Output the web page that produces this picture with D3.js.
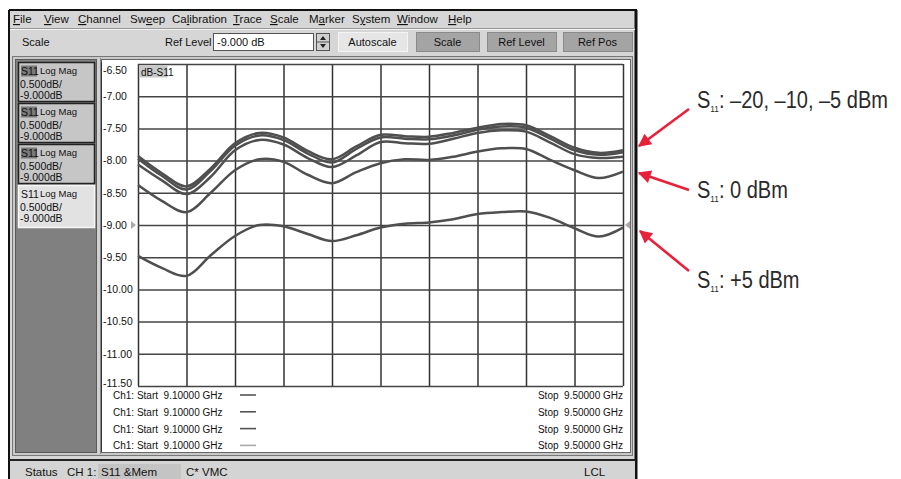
<!DOCTYPE html>
<html><head><meta charset="utf-8">
<script src="https://cdn.jsdelivr.net/npm/d3@7"></script>
<style>
body{margin:0;background:#fff}
svg{display:block}
text{font-family:"Liberation Sans",Arial,sans-serif}
</style>
</head><body>
<svg id="c" width="901" height="479"></svg>
<script>
// ---------- data ----------
const freqs   = [9.10,9.12,9.14,9.16,9.18,9.20,9.22,9.24,9.26,9.28,9.30,9.32,9.34,9.36,9.38,9.40,9.42,9.44,9.46,9.48,9.50];
const s11m20  = [-7.93,-8.20,-8.40,-8.12,-7.73,-7.57,-7.64,-7.85,-7.98,-7.78,-7.60,-7.62,-7.63,-7.57,-7.49,-7.43,-7.45,-7.62,-7.80,-7.88,-7.84];
const s11m10  = [-7.97,-8.24,-8.45,-8.16,-7.77,-7.61,-7.68,-7.89,-8.03,-7.82,-7.64,-7.66,-7.67,-7.61,-7.52,-7.47,-7.49,-7.66,-7.84,-7.91,-7.87];
const s11m5   = [-8.06,-8.31,-8.52,-8.25,-7.84,-7.68,-7.75,-7.96,-8.10,-7.92,-7.71,-7.73,-7.74,-7.66,-7.57,-7.53,-7.55,-7.72,-7.90,-7.96,-7.94];
const s11p0   = [-8.38,-8.63,-8.80,-8.50,-8.15,-7.98,-8.02,-8.22,-8.35,-8.18,-8.04,-7.98,-7.99,-7.94,-7.86,-7.81,-7.82,-7.99,-8.15,-8.27,-8.17];
const s11p5   = [-9.48,-9.67,-9.79,-9.47,-9.17,-9.00,-9.02,-9.14,-9.25,-9.16,-9.04,-8.98,-8.96,-8.91,-8.83,-8.80,-8.79,-8.89,-9.05,-9.18,-9.04];
const yTicks  = [-6.5,-7,-7.5,-8,-8.5,-9,-9.5,-10,-10.5,-11,-11.5];
const xTicks  = [9.10,9.14,9.18,9.22,9.26,9.30,9.34,9.38,9.42,9.46,9.50];
const menuItems = ["File","View","Channel","Sweep","Calibration","Trace","Scale","Marker","System","Window","Help"];
const menuMnemonic = [0,0,0,2,2,0,0,1,1,0,0];
const buttons = ["Autoscale","Scale","Ref Level","Ref Pos"];
const channelLines = ["0.500dB/","-9.000dB"];
const legendStart = "Ch1: Start  9.10000 GHz";
const legendStop  = "Stop  9.50000 GHz";
const annotations = [": \u201320, \u201310, \u20135 dBm", ": 0 dBm", ": +5 dBm"];

// ---------- drawing ----------
const svg = d3.select("#c");
const W = 901, H = 479;
svg.append("rect").attr("width",W).attr("height",H).attr("fill","#fff");

const g = svg.append("g");
g.append("rect").attr("x",9).attr("y",10).attr("width",627).attr("height",469).attr("fill","#d6d6d6");
g.append("line").attr("x1",9).attr("x2",9).attr("y1",10).attr("y2",479).attr("stroke","#111").attr("stroke-width",2);
g.append("line").attr("x1",636).attr("x2",636).attr("y1",10).attr("y2",479).attr("stroke","#111").attr("stroke-width",3);
g.append("line").attr("x1",9).attr("x2",637).attr("y1",10).attr("y2",10).attr("stroke","#111").attr("stroke-width",2);

// menu bar
const menuX = [13,44,78,130,172,233,270,309,352,397,448];
menuItems.forEach((m,i)=>{
  const t = g.append("text").attr("x",menuX[i]).attr("y",23).attr("font-size",11.5).attr("fill","#111");
  const k = menuMnemonic[i];
  if(k>0) t.append("tspan").text(m.slice(0,k));
  t.append("tspan").attr("text-decoration","underline").text(m[k]);
  t.append("tspan").text(m.slice(k+1));
});
g.append("line").attr("x1",10).attr("x2",635).attr("y1",28.5).attr("y2",28.5).attr("stroke","#9a9a9a");
g.append("line").attr("x1",10).attr("x2",635).attr("y1",29.5).attr("y2",29.5).attr("stroke","#f2f2f2");

// toolbar
g.append("text").attr("x",22).attr("y",46).attr("font-size",11).attr("fill","#111").text("Scale");
g.append("text").attr("x",165).attr("y",46).attr("font-size",11).attr("fill","#111").text("Ref Level");
g.append("rect").attr("x",213.5).attr("y",33.5).attr("width",100).attr("height",17).attr("fill","#fff").attr("stroke","#555");
g.append("text").attr("x",217).attr("y",46).attr("font-size",11).attr("fill","#111").text("-9.000 dB");
g.append("rect").attr("x",316.5).attr("y",33.5).attr("width",13).attr("height",17).attr("fill","#d0d0d0").attr("stroke","#555");
g.append("line").attr("x1",317).attr("x2",329).attr("y1",42).attr("y2",42).attr("stroke","#555");
g.append("path").attr("d","M320,40 L323,36 L326,40 Z").attr("fill","#222");
g.append("path").attr("d","M320,44 L323,48 L326,44 Z").attr("fill","#222");
const btnX = [338,416,487,563], btnW=[69,63,69,69];
buttons.forEach((b,i)=>{
  g.append("rect").attr("x",btnX[i]+0.5).attr("y",32.5).attr("width",btnW[i]).attr("height",19)
   .attr("fill", i===0?"#e6e6e6":"#a4a4a4").attr("stroke", i===0?"#f4f4f4":"#8a8a8a");
  g.append("text").attr("x",btnX[i]+btnW[i]/2).attr("y",46).attr("text-anchor","middle").attr("font-size",11).attr("fill","#111").text(b);
});

// main panel frame
g.append("rect").attr("x",12.5).attr("y",56.5).attr("width",620).attr("height",399).attr("fill","#c8c8c8").attr("stroke","#777");
g.append("rect").attr("x",15.5).attr("y",59.5).attr("width",81).attr("height",393).attr("fill","#808080").attr("stroke","#5a5a5a");
const boxY=[62,103,144,185];
boxY.forEach((by,i)=>{
  const sel = i===3;
  g.append("rect").attr("x",18.5).attr("y",by+0.5).attr("width",76).attr("height",sel?42:39)
    .attr("fill", sel?"#e2e2e2":"#c6c6c6").attr("stroke", sel?"#f6f6f6":"#222").attr("stroke-width",1.5);
  if(!sel) g.append("rect").attr("x",21).attr("y",by+3.5).attr("width",16).attr("height",11).attr("fill","#7a7a7a");
  g.append("text").attr("x",21).attr("y",by+13).attr("font-size",10.5).attr("fill","#111").text("S11");
  g.append("text").attr("x",40).attr("y",by+11.5).attr("font-size",9.5).attr("fill","#111").text("Log Mag");
  channelLines.forEach((c,j)=>g.append("text").attr("x",20).attr("y",by+26+j*10.5).attr("font-size",10.5).attr("fill","#111").text(c));
});
g.append("rect").attr("x",97).attr("y",58).attr("width",4).attr("height",396).attr("fill","#d0d0d0");
g.append("line").attr("x1",100.5).attr("x2",100.5).attr("y1",58).attr("y2",454).attr("stroke","#888");
g.append("rect").attr("x",101).attr("y",59).attr("width",530).attr("height",394).attr("fill","#fff");
g.append("rect").attr("x",101.5).attr("y",59.5).attr("width",529).attr("height",393).attr("fill","none").attr("stroke","#666");

// bottom black line & status bar
g.append("line").attr("x1",9).attr("x2",636).attr("y1",460).attr("y2",460).attr("stroke","#222").attr("stroke-width",2);
g.append("rect").attr("x",10).attr("y",461).attr("width",625).attr("height",18).attr("fill","#d4d4d4");
g.append("text").attr("x",25).attr("y",476).attr("font-size",11.5).attr("fill","#111").text("Status");
g.append("text").attr("x",67).attr("y",476).attr("font-size",11.5).attr("fill","#111").text("CH 1:");
g.append("rect").attr("x",98).attr("y",464).attr("width",83).attr("height",15).attr("fill","#c4c4c4");
g.append("text").attr("x",101).attr("y",476).attr("font-size",11.5).attr("fill","#111").text("S11 &Mem");
g.append("text").attr("x",186).attr("y",476).attr("font-size",11.5).attr("fill","#111").text("C* VMC");
g.append("text").attr("x",584).attr("y",476).attr("font-size",11.5).attr("fill","#111").text("LCL");

// ---------- chart ----------
const x = d3.scaleLinear().domain([9.10,9.50]).range([138,623]);
const y = d3.scaleLinear().domain([-6.5,-11.5]).range([64,386]);
const plot = svg.append("g");

plot.append("g").attr("transform",`translate(0,${y(-11.5)})`)
  .call(d3.axisBottom(x).tickValues(xTicks).tickSize(-(y(-11.5)-y(-6.5))).tickFormat(""))
  .call(s=>{s.select(".domain").remove(); s.selectAll("line").attr("stroke","#333").attr("stroke-width",1.5);});
plot.append("g").attr("transform",`translate(${x(9.10)},0)`)
  .call(d3.axisLeft(y).tickValues(yTicks).tickSize(-(x(9.50)-x(9.10))).tickFormat(""))
  .call(s=>{s.select(".domain").remove(); s.selectAll("line").attr("stroke","#444").attr("stroke-width",1.5);});
plot.append("g").attr("transform",`translate(${x(9.10)},0)`)
  .call(d3.axisLeft(y).tickValues(yTicks).tickSize(0).tickPadding(0).tickFormat(d=>d.toFixed(2)))
  .call(s=>{
    s.select(".domain").remove();
    s.selectAll("text").attr("x",-35).attr("text-anchor","start").attr("font-size",10.5).attr("fill","#111")
      .attr("font-family","Liberation Sans, Arial, sans-serif")
      .attr("dy",d=> d===-6.5? "0.95em" : d===-11.5? "0.05em" : "0.32em");
  });
plot.append("line").attr("x1",101.5).attr("x2",101.5).attr("y1",62).attr("y2",452).attr("stroke","#333");

plot.append("rect").attr("x",139.5).attr("y",65.5).attr("width",28).attr("height",12).attr("fill","#c8c8c8");
plot.append("text").attr("x",141).attr("y",75.5).attr("font-size",10).attr("fill","#111").text("dB-S11");

const line = d3.line().x((d,i)=>x(freqs[i])).y(d=>y(d)).curve(d3.curveCatmullRom.alpha(0.5));
[s11m20,s11m10,s11m5,s11p0,s11p5].forEach((s,i)=>{
  plot.append("path").attr("d",line(s)).attr("fill","none")
    .attr("stroke","#4f4f4f").attr("stroke-width", 2.5).attr("stroke-linejoin","round");
});

plot.append("path").attr("d",`M${x(9.10)-7},${y(-9)-4} L${x(9.10)-2},${y(-9)} L${x(9.10)-7},${y(-9)+4} Z`).attr("fill","#aaa");
plot.append("path").attr("d",`M${x(9.50)+7},${y(-9)-4} L${x(9.50)+2},${y(-9)} L${x(9.50)+7},${y(-9)+4} Z`).attr("fill","#aaa");

const legendColors = ["#555","#555","#555","#aaa"];
legendColors.forEach((c,i)=>{
  const yy = 399 + i*16.8;
  plot.append("text").attr("x",113).attr("y",yy).attr("font-size",10).attr("fill","#111").attr("xml:space","preserve").text(legendStart);
  plot.append("line").attr("x1",240).attr("x2",256).attr("y1",yy-4).attr("y2",yy-4).attr("stroke",c).attr("stroke-width",1.6);
  plot.append("text").attr("x",623).attr("y",yy).attr("text-anchor","end").attr("font-size",10).attr("fill","#111").attr("xml:space","preserve").text(legendStop);
});

// ---------- annotations ----------
const red = "#e8203a";
svg.append("defs").append("marker").attr("id","ah").attr("viewBox","0 0 10 10").attr("refX",9).attr("refY",5)
  .attr("markerWidth",6).attr("markerHeight",5).attr("orient","auto").attr("markerUnits","strokeWidth")
  .append("path").attr("d","M0,0 L10,5 L0,10 Z").attr("fill",red);
const arrows = [[689,109,639,146],[689,190,639,173],[689,271,640,231]];
arrows.forEach(a=>{
  svg.append("line").attr("x1",a[0]).attr("y1",a[1]).attr("x2",a[2]).attr("y2",a[3])
    .attr("stroke",red).attr("stroke-width",2.6).attr("marker-end","url(#ah)");
});
const annY = [108,198,288];
annotations.forEach((t,i)=>{
  const tx = svg.append("text").attr("transform",`translate(697,${annY[i]}) scale(0.87,1)`)
    .attr("font-size",23).attr("fill","#2a2a2a");
  tx.append("tspan").text("S");
  tx.append("tspan").attr("font-size",9.5).attr("dy",4).text("11");
  tx.append("tspan").attr("dy",-4).text(t);
});
</script>
</body></html>
